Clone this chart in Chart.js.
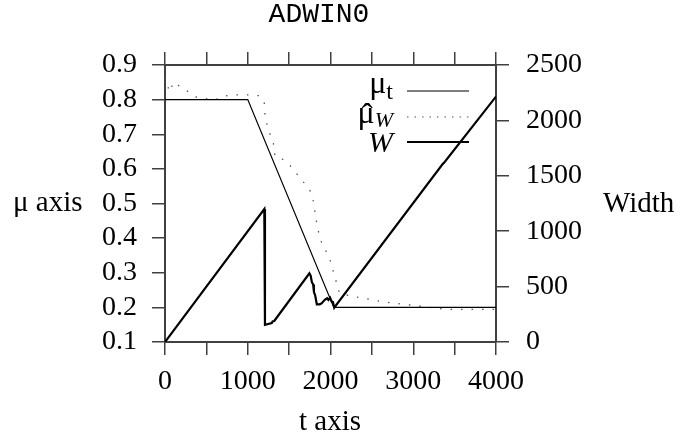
<!DOCTYPE html>
<html>
<head>
<meta charset="utf-8">
<script src="https://cdn.jsdelivr.net/npm/chart.js@4/dist/chart.umd.min.js"></script>
<style>
  html, body { margin: 0; padding: 0; background: #fff; }
  #wrap { width: 682px; height: 440px; }
</style>
</head>
<body>
<div id="wrap"><canvas id="adwinChart" width="682" height="440"></canvas></div>
<script>
//Tick values
const tTicks = [0, 500, 1000, 1500, 2000, 2500, 3000, 3500, 4000];
const muTicks = [0.1, 0.2, 0.3, 0.4, 0.5, 0.6, 0.7, 0.8, 0.9];
const widthTicks = [0, 500, 1000, 1500, 2000, 2500];

//True mean mu_t
const muTrueT = [0, 1000, 2040, 4000];
const muTrue = [0.8, 0.8, 0.2, 0.2];

//Estimated mean over the window
const muHatT = [0, 20, 60, 100, 190, 280, 380, 600, 740, 890, 1030, 1150, 1200, 1210, 1250, 1310, 1330, 1410, 1510, 1570, 1670, 1750, 1790, 1840, 1880, 1990, 2030, 2110, 2310, 2640, 3100, 3400, 4000];
const muHat = [0.865, 0.845, 0.822, 0.85, 0.837, 0.823, 0.807, 0.799, 0.811, 0.814, 0.814, 0.811, 0.79, 0.75, 0.712, 0.674, 0.635, 0.63, 0.61, 0.592, 0.563, 0.539, 0.51, 0.433, 0.394, 0.341, 0.307, 0.24, 0.23, 0.216, 0.203, 0.194, 0.194];

//Window width W
const widthT = [0, 1200, 1208, 1290, 1300, 1320, 1745, 1760, 1775, 1790, 1800, 1815, 1835, 1870, 1895, 1930, 1960, 1975, 1995, 2015, 2030, 2045, 3360, 3375, 4000];
const widthW = [0, 1200, 155, 170, 185, 190, 620, 600, 540, 520, 450, 420, 340, 340, 350, 380, 395, 380, 400, 365, 360, 310, 1610, 1620, 2215];

const toPoints = (xs, ys) => xs.map((x, i) => ({ x: x, y: ys[i] }));

const axisColor = "#404040";
const tickFont = { family: "Liberation Serif", size: 28 };

//Text: title, axis names and legend
const annotations = {

    id: "annotations",

    afterDraw(chart) {

        const ctx = chart.ctx;
        ctx.save();
        ctx.fillStyle = "#000";
        ctx.textBaseline = "alphabetic";

        //Title
        ctx.font = '28px "Liberation Mono"';
        ctx.textAlign = "center";
        ctx.fillText("ADWIN0", 319, 22);

        //Axis names
        ctx.font = '29px "Liberation Serif"';
        ctx.textAlign = "left";
        ctx.fillText("μ axis", 13, 211);
        ctx.fillText("Width", 603, 212);
        ctx.textAlign = "center";
        ctx.fillText("t axis", 330, 430);

        //Legend
        const rightEdge = 393;
        const lx1 = 407, lx2 = 469;

        function label(main, mainFont, sub, subFont, baseY, subY, hat) {
            ctx.font = subFont;
            const sw = ctx.measureText(sub).width;
            ctx.font = mainFont;
            const mw = ctx.measureText(main).width;
            const mx = rightEdge - sw - mw;
            ctx.textAlign = "left";
            ctx.fillText(main, mx, baseY);
            if (hat) {
                ctx.font = '34px "Liberation Serif"';
                ctx.textAlign = "center";
                ctx.fillText("ˆ", mx + mw / 2 + 1, baseY + 4);
                ctx.textAlign = "left";
            }
            ctx.font = subFont;
            ctx.fillText(sub, rightEdge - sw, subY);
        }

        label("μ", '32px "Liberation Serif"', "t", '24px "Liberation Serif"', 93, 99, false);
        label("μ", '32px "Liberation Serif"', "W", 'italic 22px "Liberation Serif"', 123, 127, true);
        label("W", 'italic 30px "Liberation Serif"', "", '20px "Liberation Serif"', 152, 152, false);

        ctx.strokeStyle = "#000";

        ctx.lineWidth = 1.2;
        ctx.beginPath();
        ctx.moveTo(lx1, 91);
        ctx.lineTo(lx2, 91);
        ctx.stroke();

        ctx.strokeStyle = "#555";
        ctx.setLineDash([1.5, 6]);
        ctx.beginPath();
        ctx.moveTo(lx1, 117);
        ctx.lineTo(lx2, 117);
        ctx.stroke();
        ctx.setLineDash([]);

        ctx.strokeStyle = "#000";
        ctx.lineWidth = 2.2;
        ctx.beginPath();
        ctx.moveTo(lx1, 142);
        ctx.lineTo(lx2, 142);
        ctx.stroke();

        ctx.restore();

    }

};

function gridStyle() {
    return {
        drawOnChartArea: false,
        drawTicks: true,
        tickLength: 13,
        color: axisColor,
        lineWidth: 1.5
    };
}

const ctx = document.querySelector("#adwinChart");

new Chart(ctx, {

    type: "line",

    data: {

        datasets: [

            {
                label: "mu_t",
                data: toPoints(muTrueT, muTrue),
                yAxisID: "y",
                borderColor: "#000",
                borderWidth: 1.2,
                pointRadius: 0,
                tension: 0
            },

            {
                label: "mu_hat_W",
                data: toPoints(muHatT, muHat),
                yAxisID: "y",
                borderColor: "#555",
                borderWidth: 1.3,
                borderDash: [1.5, 9],
                pointRadius: 0,
                tension: 0
            },

            {
                label: "W",
                data: toPoints(widthT, widthW),
                yAxisID: "y1",
                borderColor: "#000",
                borderWidth: 2.2,
                pointRadius: 0,
                tension: 0
            }

        ]

    },

    options: {

        responsive: false,
        animation: false,
        events: [],

        layout: {
            padding: { top: 52, left: 0, right: 0, bottom: 0 }
        },

        plugins: {
            legend: { display: false },
            title: { display: false },
            tooltip: { enabled: false }
        },

        scales: {

            x: {
                type: "linear",
                position: "bottom",
                min: tTicks[0],
                max: tTicks[tTicks.length - 1],
                afterBuildTicks: scale => { scale.ticks = tTicks.map(v => ({ value: v })); },
                ticks: {
                    font: tickFont,
                    color: "#000",
                    padding: 10,
                    maxRotation: 0,
                    autoSkip: false,
                    callback: v => (v % 1000 === 0 ? String(v) : "")
                },
                grid: gridStyle(),
                border: { color: axisColor, width: 2 },
                afterFit: scale => { scale.height = 98; }
            },

            xTop: {
                type: "linear",
                position: "top",
                min: tTicks[0],
                max: tTicks[tTicks.length - 1],
                afterBuildTicks: scale => { scale.ticks = tTicks.map(v => ({ value: v })); },
                ticks: { display: false },
                grid: gridStyle(),
                border: { color: axisColor, width: 2 },
                afterFit: scale => { scale.height = 13; }
            },

            y: {
                position: "left",
                min: muTicks[0],
                max: muTicks[muTicks.length - 1],
                afterBuildTicks: scale => { scale.ticks = muTicks.map(v => ({ value: v })); },
                ticks: {
                    font: tickFont,
                    color: "#000",
                    padding: 15,
                    autoSkip: false,
                    callback: v => Number(v).toFixed(1)
                },
                grid: gridStyle(),
                border: { color: axisColor, width: 2 },
                afterFit: scale => { scale.width = 165; }
            },

            y1: {
                position: "right",
                min: widthTicks[0],
                max: widthTicks[widthTicks.length - 1],
                afterBuildTicks: scale => { scale.ticks = widthTicks.map(v => ({ value: v })); },
                ticks: {
                    font: tickFont,
                    color: "#000",
                    padding: 17,
                    autoSkip: false,
                    callback: v => String(v)
                },
                grid: gridStyle(),
                border: { color: axisColor, width: 2 },
                afterFit: scale => { scale.width = 186; }
            }

        }

    },

    plugins: [annotations]

});
</script>
</body>
</html>
